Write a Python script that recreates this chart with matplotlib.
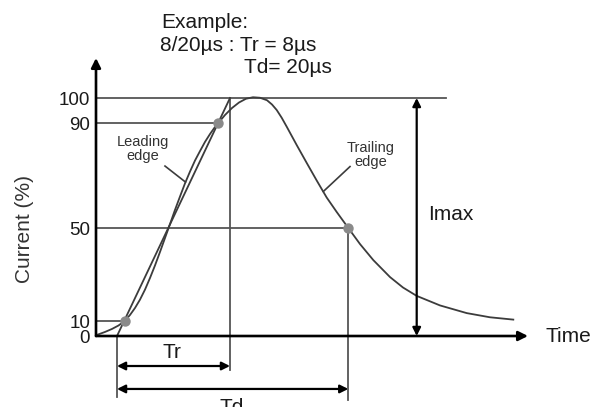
"""Surge current waveform schematic (8/20 us): leading/trailing edge, Tr, Td, Imax."""

import matplotlib

matplotlib.use("Agg")
import matplotlib.pyplot as plt
import numpy as np

plt.rcParams["font.family"] = ["Liberation Sans", "DejaVu Sans"]

# y axis: tick values (percent of Imax) and labels
TICK_VALS = [0, 10, 50, 90, 100]
TICK_LABELS = ["0", "10", "50", "90", "100"]
# the drawing is not to scale: visual height of each tick above the baseline
SCALE_H = [0, 15, 108, 213, 238]

# waveform (time in arbitrary units, current in %)
CURVE_T = [0.2, 0.9, 1.6, 2.25, 2.87, 3.4, 3.9, 4.4, 4.9, 5.4, 5.9, 6.4, 6.9,
           7.4, 7.9, 8.4, 8.9, 9.4, 9.9, 10.4, 10.9, 11.4, 11.9, 12.23, 12.9,
           13.6, 14.3, 15.0, 15.7, 16.4, 17.1, 17.6, 18.07, 18.57, 19.07,
           20.07, 21.07, 22.07, 23.07, 24.07, 25.23, 26.4, 27.73, 29.4, 30.7,
           32.07, 34.4, 37.07, 39.4, 41.73]
CURVE_I = [1.0, 2.7, 4.7, 7.0, 10.0, 12.6, 15.6, 19.2, 23.5, 28.5, 33.9, 39.7,
           45.7, 51.5, 56.9, 62.0, 67.0, 71.5, 75.7, 79.3, 82.8, 85.8, 88.5,
           90.0, 93.2, 96.0, 98.2, 99.7, 100.3, 100.1, 99.1, 97.4, 95.2, 92.1,
           88.6, 81.6, 74.8, 68.1, 61.6, 56.1, 50.0, 43.1, 36.2, 28.9, 24.4,
           20.8, 16.7, 13.4, 11.6, 10.6]

# straight line through the 10 % and 90 % points
RAMP_T = [2.1, 13.4]
RAMP_I = [0, 100]

# marked points: 10 %, 90 % on the front, 50 % on the tail
MARK_T = [2.87, 12.23, 25.23]
MARK_I = [10, 90, 50]

T_ORIGIN = 2.1      # virtual origin
T_RISE = 13.4       # end of Tr
T_HALF = 25.23      # end of Td
T_IMAX = 32.07
T_TOP_END = 35.0
T_AXIS_END = 43.2
I_AXIS_TOP = 116


def _fwd(v):
    v = np.asarray(v, dtype=float)
    h = np.interp(v, TICK_VALS, SCALE_H)
    h = np.where(v < 0, v * 1.5, h)
    h = np.where(v > 100, 238 + (v - 100) * 2.5, h)
    return h


def _inv(h):
    h = np.asarray(h, dtype=float)
    v = np.interp(h, SCALE_H, TICK_VALS)
    v = np.where(h < 0, h / 1.5, v)
    v = np.where(h > 238, 100 + (h - 238) / 2.5, v)
    return v


INK = "#1a1a1a"
GUIDE = "#555555"
WAVE = "#3c3c3c"

fig = plt.figure(figsize=(6.04, 4.07), dpi=100)
ax = fig.add_axes([96 / 604, 0, 508 / 604, 1])
ax.set_yscale("function", functions=(_fwd, _inv))
ax.set_xlim(0, 50.8)
ax.set_ylim(-47.33, 139.2)

for s in ax.spines.values():
    s.set_visible(False)
ax.set_xticks([])
ax.set_yticks(TICK_VALS)
ax.set_yticklabels(TICK_LABELS)
ax.tick_params(axis="y", length=0, pad=4.3, labelsize=13.5, labelcolor=INK)
ax.minorticks_off()

# guide lines
gkw = dict(color=GUIDE, lw=1.3, clip_on=False, zorder=1)
ax.plot([0, T_TOP_END], [100, 100], **gkw)
ax.plot([0, MARK_T[1]], [90, 90], **gkw)
ax.plot([0, MARK_T[2]], [50, 50], **gkw)
ax.plot([0, MARK_T[0]], [10, 10], **gkw)
ax.plot([T_RISE, T_RISE], [100, -22.7], **gkw)
ax.plot([T_ORIGIN, T_ORIGIN], [0, -40.7], **gkw)
ax.plot([T_HALF, T_HALF], [50, -42.7], **gkw)

# waveform and straight front
ax.plot(CURVE_T, CURVE_I, color=WAVE, lw=1.3, zorder=3, solid_joinstyle="round")
ax.plot(RAMP_T, RAMP_I, color=WAVE, lw=1.3, zorder=3)
ax.plot(MARK_T, MARK_I, "o", color="#8a8a8a", ms=7.5, mec="none", zorder=4)

# axes with arrow heads
akw = dict(arrowstyle="-|>", color="black", lw=1.9, mutation_scale=14,
           shrinkA=0, shrinkB=0)
ax.annotate("", xy=(0, I_AXIS_TOP), xytext=(0, 0), arrowprops=akw, zorder=5)
ax.annotate("", xy=(T_AXIS_END, 0), xytext=(0, 0), arrowprops=akw, zorder=5)

dkw = dict(arrowstyle="<|-|>", color="black", lw=1.6, mutation_scale=12,
           shrinkA=0, shrinkB=0)
ax.annotate("", xy=(T_IMAX, 100), xytext=(T_IMAX, 0), arrowprops=dkw, zorder=5)
ax.annotate("", xy=(T_RISE, -20), xytext=(T_ORIGIN, -20), arrowprops=dkw)
ax.annotate("", xy=(T_HALF, -35.3), xytext=(T_ORIGIN, -35.3), arrowprops=dkw)

# edge labels with leader lines
ax.plot([6.9, 8.95], [73.6, 67.5], color=WAVE, lw=1.2)
ax.plot([25.4, 22.73], [73.4, 63.9], color=WAVE, lw=1.2)
ax.text(4.7, 80.1, "Leading\nedge", ha="center", va="center", fontsize=10.5,
        color="#333333", linespacing=1.05)
ax.text(27.5, 77.8, "Trailing\nedge", ha="center", va="center", fontsize=10.5,
        color="#333333", linespacing=1.05)

tkw = dict(fontsize=15, color=INK)
ax.text(7.6, -10.7, "Tr", ha="center", va="center", **tkw)
ax.text(13.6, -41.3, "Td", ha="center", va="top", **tkw)
ax.text(33.2, 55.0, "Imax", ha="left", va="center", **tkw)
ax.text(45.0, 0, "Time", ha="left", va="center", **tkw)

ax.text(6.5, 128.0, "Example:", ha="left", va="baseline", **tkw)
ax.text(6.4, 118.8, "8/20µs : Tr = 8µs", ha="left", va="baseline", **tkw)
ax.text(14.8, 110.0, "Td= 20µs", ha="left", va="baseline", **tkw)

fig.text(24 / 604, 1 - 229 / 407, "Current (%)", rotation=90, ha="center",
         va="center", fontsize=15, color="#333333")

fig.savefig("out.png", dpi=100)
